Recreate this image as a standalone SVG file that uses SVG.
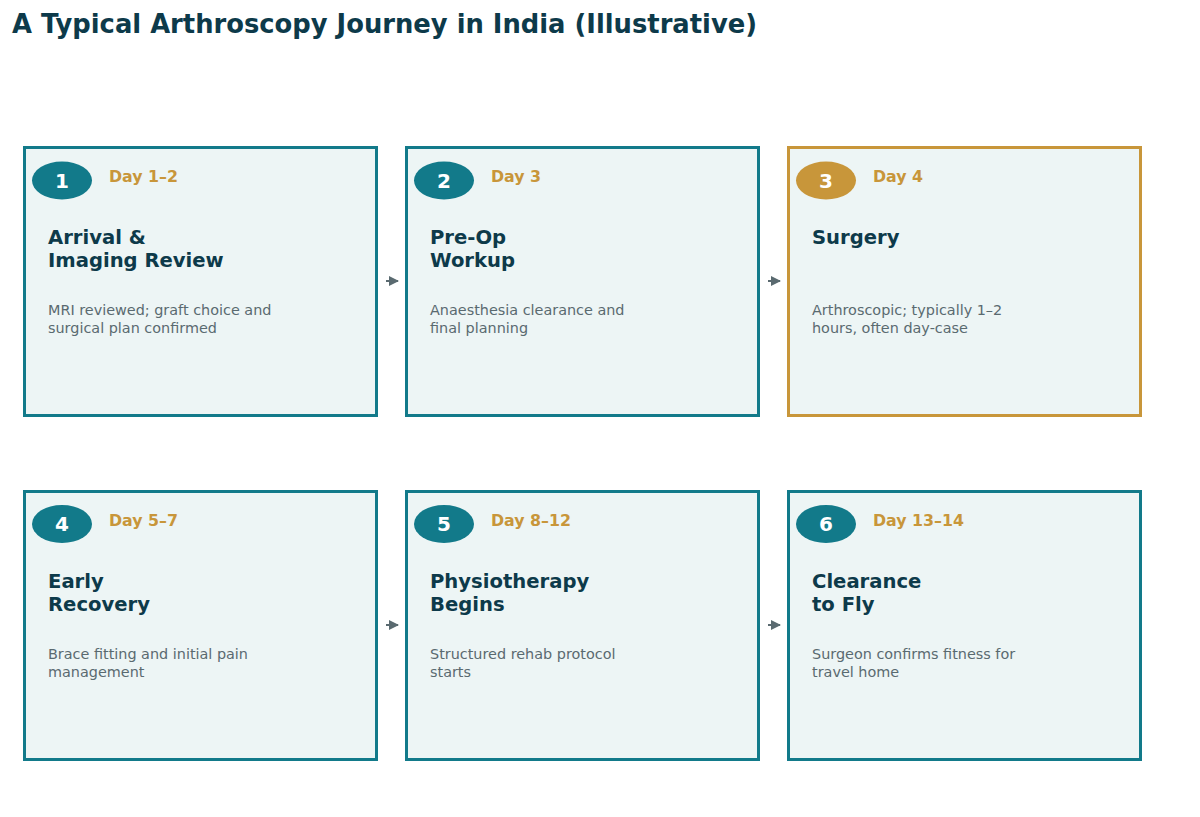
<svg xmlns="http://www.w3.org/2000/svg" width="1200" height="817" viewBox="0 0 1200 817">
<defs>
<style>
.card{fill:#edf5f5;stroke:#127a8a;stroke-width:3}
.card.hl{stroke:#c8963a}
.badge{fill:#127a8a}
.badge.hl{fill:#c8963a}
.num{font-family:"DejaVu Sans",sans-serif;font-weight:bold;font-size:20px;fill:#ffffff;text-anchor:middle}
.day{font-family:"DejaVu Sans",sans-serif;font-weight:bold;font-size:15.8px;fill:#c8963a}
.ttl{font-family:"DejaVu Sans",sans-serif;font-weight:bold;font-size:19.6px;fill:#0d3a4a}
.desc{font-family:"DejaVu Sans",sans-serif;font-size:14.4px;fill:#5a6a70}
.conn{stroke:#5a6a70;stroke-width:2;fill:none}
</style>
<marker id="ah" viewBox="0 0 10 10" refX="9" refY="5" markerWidth="5" markerHeight="5" orient="auto">
<path d="M0,0 L10,5 L0,10 z" fill="#5a6a70"/>
</marker>
</defs>
<rect width="1200" height="817" fill="#ffffff"/>
<text x="12" y="33" font-family="DejaVu Sans, sans-serif" font-weight="bold" font-size="25.8" fill="#0d3a4a">A Typical Arthroscopy Journey in India (Illustrative)</text>

<g id="connectors">
<line class="conn" x1="386" y1="281" x2="398" y2="281" marker-end="url(#ah)"/>
<line class="conn" x1="768" y1="281" x2="780" y2="281" marker-end="url(#ah)"/>
<line class="conn" x1="386" y1="625" x2="398" y2="625" marker-end="url(#ah)"/>
<line class="conn" x1="768" y1="625" x2="780" y2="625" marker-end="url(#ah)"/>
</g>

<g id="step1">
<rect class="card" x="24.5" y="147.5" width="352" height="268"/>
<ellipse class="badge" cx="62" cy="180.5" rx="30" ry="19"/>
<text class="num" x="62" y="187.5">1</text>
<text class="day" x="109" y="182">Day 1–2</text>
<text class="ttl" x="48" y="244">Arrival &amp;</text>
<text class="ttl" x="48" y="267">Imaging Review</text>
<text class="desc" x="48" y="315">MRI reviewed; graft choice and</text>
<text class="desc" x="48" y="333">surgical plan confirmed</text>
</g>

<g id="step2">
<rect class="card" x="406.5" y="147.5" width="352" height="268"/>
<ellipse class="badge" cx="444" cy="180.5" rx="30" ry="19"/>
<text class="num" x="444" y="187.5">2</text>
<text class="day" x="491" y="182">Day 3</text>
<text class="ttl" x="430" y="244">Pre-Op</text>
<text class="ttl" x="430" y="267">Workup</text>
<text class="desc" x="430" y="315">Anaesthesia clearance and</text>
<text class="desc" x="430" y="333">final planning</text>
</g>

<g id="step3">
<rect class="card hl" x="788.5" y="147.5" width="352" height="268"/>
<ellipse class="badge hl" cx="826" cy="180.5" rx="30" ry="19"/>
<text class="num" x="826" y="187.5">3</text>
<text class="day" x="873" y="182">Day 4</text>
<text class="ttl" x="812" y="244">Surgery</text>
<text class="desc" x="812" y="315">Arthroscopic; typically 1–2</text>
<text class="desc" x="812" y="333">hours, often day-case</text>
</g>

<g id="step4">
<rect class="card" x="24.5" y="491.5" width="352" height="268"/>
<ellipse class="badge" cx="62" cy="524" rx="30" ry="19"/>
<text class="num" x="62" y="531">4</text>
<text class="day" x="109" y="526">Day 5–7</text>
<text class="ttl" x="48" y="588">Early</text>
<text class="ttl" x="48" y="611">Recovery</text>
<text class="desc" x="48" y="659">Brace fitting and initial pain</text>
<text class="desc" x="48" y="677">management</text>
</g>

<g id="step5">
<rect class="card" x="406.5" y="491.5" width="352" height="268"/>
<ellipse class="badge" cx="444" cy="524" rx="30" ry="19"/>
<text class="num" x="444" y="531">5</text>
<text class="day" x="491" y="526">Day 8–12</text>
<text class="ttl" x="430" y="588">Physiotherapy</text>
<text class="ttl" x="430" y="611">Begins</text>
<text class="desc" x="430" y="659">Structured rehab protocol</text>
<text class="desc" x="430" y="677">starts</text>
</g>

<g id="step6">
<rect class="card" x="788.5" y="491.5" width="352" height="268"/>
<ellipse class="badge" cx="826" cy="524" rx="30" ry="19"/>
<text class="num" x="826" y="531">6</text>
<text class="day" x="873" y="526">Day 13–14</text>
<text class="ttl" x="812" y="588">Clearance</text>
<text class="ttl" x="812" y="611">to Fly</text>
<text class="desc" x="812" y="659">Surgeon confirms fitness for</text>
<text class="desc" x="812" y="677">travel home</text>
</g>
</svg>
